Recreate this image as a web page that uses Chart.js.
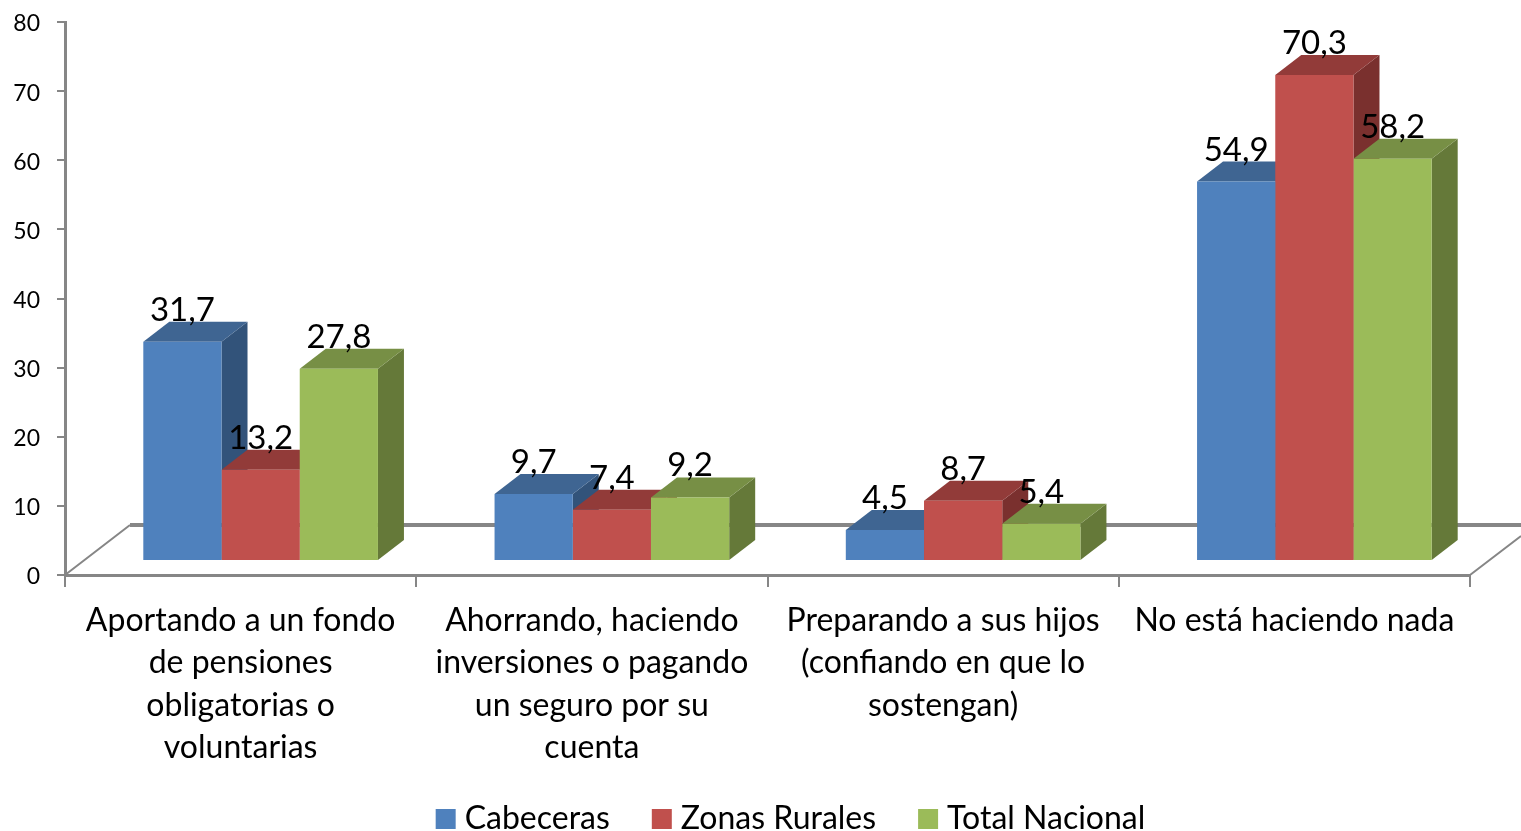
<!DOCTYPE html>
<html>
<head>
    <title>Gráfico de barras</title>
    <meta charset="UTF-8">
    <script src="https://cdn.jsdelivr.net/npm/chart.js"></script>
    <style>
        html, body { margin: 0; padding: 0; background: #fff; overflow: hidden; }
        canvas { display: block; }
    </style>
</head>
<body>
    <canvas id="grafico" width="1521" height="831"></canvas>
    <script>
        var categorias = [
            ['Aportando a un fondo', 'de pensiones', 'obligatorias o', 'voluntarias'],
            ['Ahorrando, haciendo', 'inversiones o pagando', 'un seguro por su', 'cuenta'],
            ['Preparando a sus hijos', '(confiando en que lo', 'sostengan)'],
            ['No está haciendo nada']
        ];
        var cabeceras = [31.7, 9.7, 4.5, 54.9];
        var zonasRurales = [13.2, 7.4, 8.7, 70.3];
        var totalNacional = [27.8, 9.2, 5.4, 58.2];

        // colores: frente, tapa, lado
        var azul = ['#4F81BD', '#3F6592', '#32537A'];
        var rojo = ['#C0504D', '#923B39', '#7A302E'];
        var verde = ['#9BBB59', '#778F45', '#657939'];

        var gris = '#868686';
        var fuente = 'Lato, Carlito, sans-serif';
        // desplazamiento de las barras sobre el piso y profundidad 3D
        var despX = 20, despY = -14, profX = 26, profY = -20;

        function cara(ctx, color, puntos) {
            ctx.fillStyle = color;
            ctx.beginPath();
            ctx.moveTo(puntos[0], puntos[1]);
            for (var i = 2; i < puntos.length; i += 2) ctx.lineTo(puntos[i], puntos[i + 1]);
            ctx.closePath();
            ctx.fill();
        }

        var barras3d = {
            id: 'barras3d',
            afterLayout: function(chart) {
                // la leyenda y las etiquetas se recortan a su caja: se mueven a su sitio
                chart.legend.top += 14;
                chart.legend.bottom += 14;
                chart.legend.left += 59;
                chart.legend.right += 59;
                chart.scales.x.bottom = chart.height;
            },
            beforeDatasetsDraw: function(chart) {
                var ctx = chart.ctx, a = chart.chartArea;
                // piso y pared del fondo
                ctx.save();
                ctx.strokeStyle = gris;
                ctx.lineWidth = 4;
                ctx.beginPath();
                ctx.moveTo(a.left + 65, a.bottom - 50);
                ctx.lineTo(1521, a.bottom - 50);
                ctx.stroke();
                ctx.lineWidth = 2;
                ctx.beginPath();
                ctx.moveTo(a.left, a.bottom);
                ctx.lineTo(a.left + 65, a.bottom - 50);
                ctx.moveTo(a.right, a.bottom);
                ctx.lineTo(1521, a.bottom - 39);
                ctx.stroke();
                ctx.restore();

                ctx.save();
                ctx.translate(despX, despY);
                categorias.forEach(function(c, i) {
                    chart.data.datasets.forEach(function(ds, d) {
                        var b = chart.getDatasetMeta(d).data[i];
                        var izq = b.x - b.width / 2, der = b.x + b.width / 2;
                        cara(ctx, ds.caras[2], [der, b.y, der + profX, b.y + profY, der + profX, b.base + profY, der, b.base]);
                        cara(ctx, ds.caras[1], [izq, b.y, izq + profX, b.y + profY, der + profX, b.y + profY, der, b.y]);
                    });
                });
            },
            afterDatasetsDraw: function(chart) {
                var ctx = chart.ctx;
                ctx.font = '33px ' + fuente;
                ctx.fillStyle = '#000';
                ctx.textAlign = 'center';
                ctx.textBaseline = 'alphabetic';
                chart.data.datasets.forEach(function(ds, d) {
                    chart.getDatasetMeta(d).data.forEach(function(b, i) {
                        ctx.fillText(ds.data[i].toFixed(1).replace('.', ','), b.x, b.y - 21);
                    });
                });
                ctx.restore();
            }
        };

        function serie(nombre, valores, caras) {
            return { label: nombre, data: valores, caras: caras, backgroundColor: caras[0], borderWidth: 0 };
        }

        new Chart(document.getElementById('grafico').getContext('2d'), {
            type: 'bar',
            data: {
                labels: categorias,
                datasets: [
                    serie('Cabeceras', cabeceras, azul),
                    serie('Zonas Rurales', zonasRurales, rojo),
                    serie('Total Nacional', totalNacional, verde)
                ]
            },
            plugins: [barras3d],
            options: {
                responsive: false,
                animation: false,
                categoryPercentage: 0.668,
                barPercentage: 1,
                layout: { padding: { left: 0, right: 51, top: 22, bottom: 0 } },
                plugins: {
                    tooltip: { enabled: false },
                    legend: {
                        position: 'bottom',
                        labels: {
                            color: '#000',
                            font: { family: fuente, size: 32 },
                            usePointStyle: true,
                            pointStyle: 'rect',
                            boxWidth: 6,
                            boxHeight: 20,
                            padding: 49
                        }
                    }
                },
                scales: {
                    x: {
                        afterFit: function(escala) { escala.height = 165; },
                        border: { color: gris, width: 3 },
                        grid: { drawOnChartArea: false, color: gris, lineWidth: 2, tickLength: 12 },
                        ticks: {
                            color: '#000',
                            font: { family: fuente, size: 32, lineHeight: '42.5px' },
                            padding: 12,
                            maxRotation: 0,
                            autoSkip: false
                        }
                    },
                    y: {
                        min: 0,
                        max: 80,
                        afterFit: function(escala) {
                            escala.width = 65;
                            escala.paddingTop = 0;
                            escala.paddingBottom = 0;
                        },
                        border: { color: gris, width: 3 },
                        grid: { drawOnChartArea: false, color: gris, lineWidth: 2, tickLength: 8 },
                        ticks: {
                            stepSize: 10,
                            color: '#000',
                            font: { family: fuente, size: 23 },
                            padding: 17,
                            labelOffset: 2
                        }
                    }
                }
            }
        });
    </script>
</body>
</html>
